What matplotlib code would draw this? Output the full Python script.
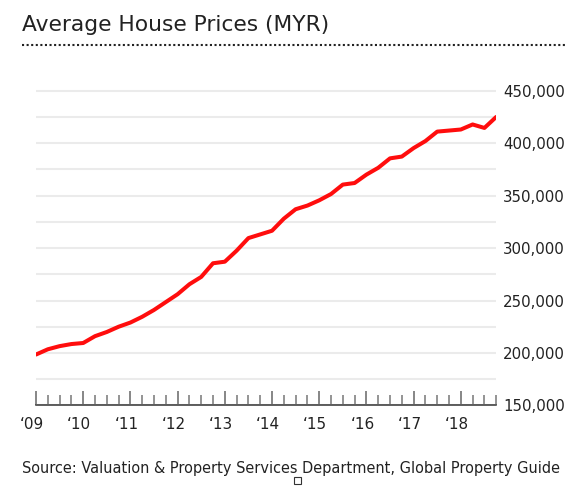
import matplotlib.pyplot as plt
import matplotlib.transforms as mtransforms
from matplotlib.lines import Line2D
from matplotlib.patches import Rectangle
from matplotlib.ticker import FixedLocator, MultipleLocator, FuncFormatter

# quarterly average house prices (MYR), Q1 2009 .. Q4 2018
prices = [198500, 203500, 206500, 208500, 209500, 216000, 220000, 225000,
          229000, 234500, 241000, 248500, 256000, 265500, 272500, 285500,
          287000, 297500, 309500, 313000, 316500, 328000, 337000, 340500,
          345500, 351500, 360500, 362000, 370000, 376500, 385500, 387200,
          395300, 402000, 411000, 412000, 413000, 417800, 414500, 425000]

year_labels = ['\u201809', '\u201810', '\u201811', '\u201812', '\u201813',
               '\u201814', '\u201815', '\u201816', '\u201817', '\u201818']

quarters = list(range(len(prices)))
year_pos = quarters[::4]
other_pos = [q for q in quarters if q % 4 != 0]

plt.rcParams['font.family'] = 'DejaVu Sans'

fig = plt.figure(figsize=(5.76, 4.91), dpi=100)
ax = fig.add_axes([0.0625, 0.1743, 0.799, 0.6677])

ax.plot(quarters, prices, color='#ff0d0d', lw=2.9, zorder=3,
        solid_joinstyle='round', solid_capstyle='round')

ax.set_xlim(0, len(prices) - 1)
ax.set_ylim(150000, 462500)

# y axis: labels on the right, grid every 25k
ax.yaxis.tick_right()
ax.yaxis.set_major_locator(MultipleLocator(50000))
ax.yaxis.set_minor_locator(MultipleLocator(25000))
ax.yaxis.set_major_formatter(FuncFormatter(lambda v, p: f'{v:,.0f}'))
ax.tick_params(axis='y', which='both', length=0, pad=5, labelsize=10.8,
               labelcolor='#222222')
ax.grid(axis='y', which='both', color='#ebebeb', lw=1.5, zorder=0)

# x axis: quarter ticks pointing up, year labels
ax.xaxis.set_major_locator(FixedLocator(year_pos))
ax.xaxis.set_minor_locator(FixedLocator(other_pos))
ax.set_xticklabels(year_labels)
ax.tick_params(axis='x', which='major', direction='in', length=10, width=1.1,
               color='#666666', pad=8.5, labelsize=11, labelcolor='#222222')
ax.tick_params(axis='x', which='minor', direction='in', length=7, width=1.1,
               color='#777777')
shift = mtransforms.ScaledTranslation(-0.04, 0, fig.dpi_scale_trans)
for lab in ax.get_xticklabels():
    lab.set_transform(lab.get_transform() + shift)

for side in ['top', 'left', 'right']:
    ax.spines[side].set_visible(False)
ax.spines['bottom'].set_color('#333333')
ax.spines['bottom'].set_linewidth(1.1)

# title with dotted rule
fig.text(22 / 576, 1 - 31.4 / 491, 'Average House Prices (MYR)',
         fontsize=15.7, color='#222222', va='baseline', ha='left')
fig.add_artist(Line2D([22 / 576, 566 / 576], [1 - 45.4 / 491] * 2,
                      transform=fig.transFigure, color='#222222', lw=1.5,
                      linestyle=(0, (1, 1.2)), dash_capstyle='butt'))

fig.text(22 / 576, 1 - 472.5 / 491,
         'Source: Valuation & Property Services Department, Global Property Guide',
         fontsize=10.45, color='#222222', va='baseline', ha='left')

# small box glyph under the source line
fig.add_artist(Rectangle((294 / 576, 1 - 484 / 491), 7 / 576, 7 / 491,
                         transform=fig.transFigure, fill=False,
                         edgecolor='#333333', lw=0.8))

fig.savefig('out.png', dpi=100)
